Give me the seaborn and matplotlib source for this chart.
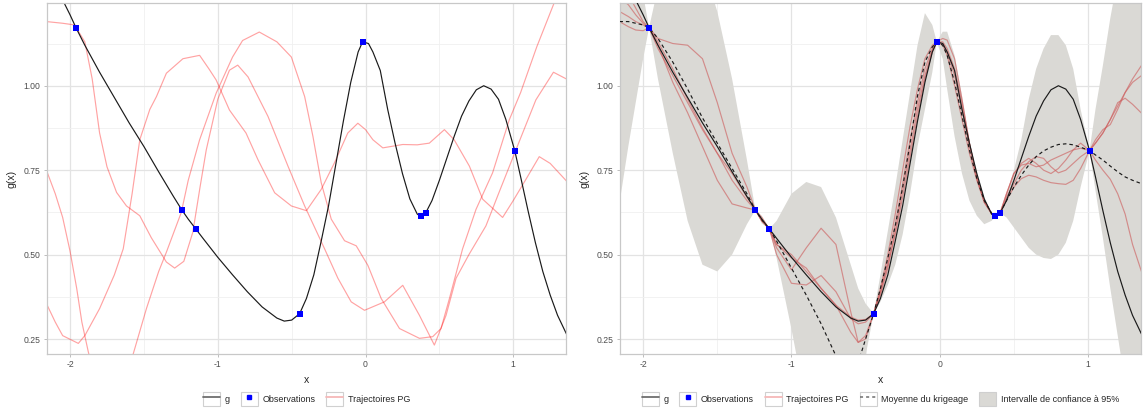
import pandas as pd
import seaborn as sns
import matplotlib.pyplot as plt
from matplotlib.lines import Line2D
from matplotlib.patches import Rectangle
from matplotlib.legend_handler import HandlerTuple

# x positions shared by g, the kriging mean, the 95% band and the right-hand trajectories
x_grid = [-2.16, -2.10, -2.05, -2.00, -1.96, -1.90, -1.80, -1.70, -1.60, -1.50,
          -1.40, -1.30, -1.243, -1.20, -1.149, -1.10, -1.00, -0.90, -0.80, -0.70,
          -0.60, -0.55, -0.50, -0.446, -0.40, -0.35, -0.30, -0.25, -0.20, -0.15,
          -0.10, -0.05, -0.02, 0.02, 0.05, 0.10, 0.15, 0.20, 0.25, 0.30,
          0.35, 0.373, 0.407, 0.45, 0.50, 0.55, 0.60, 0.65, 0.70, 0.75,
          0.80, 0.85, 0.90, 0.95, 1.01, 1.05, 1.10, 1.15, 1.20, 1.25,
          1.30, 1.36]

g_vals = [1.36, 1.30, 1.254, 1.21, 1.172, 1.12, 1.04, 0.965, 0.89, 0.82,
          0.745, 0.672, 0.632, 0.605, 0.576, 0.548, 0.492, 0.44, 0.39, 0.345,
          0.312, 0.303, 0.306, 0.325, 0.37, 0.44, 0.54, 0.645, 0.77, 0.895,
          1.01, 1.10, 1.13, 1.125, 1.10, 1.045, 0.93, 0.83, 0.74, 0.665,
          0.62, 0.613, 0.623, 0.66, 0.72, 0.785, 0.85, 0.91, 0.955, 0.988,
          1.0, 0.99, 0.96, 0.90, 0.808, 0.73, 0.63, 0.535, 0.45, 0.38,
          0.32, 0.265]

krig_mean = [1.19, 1.19, 1.185, 1.18, 1.172, 1.14, 1.07, 0.99, 0.905, 0.83,
             0.755, 0.68, 0.632, 0.603, 0.576, 0.54, 0.46, 0.38, 0.295, 0.20,
             0.13, 0.18, 0.25, 0.325, 0.40, 0.49, 0.585, 0.70, 0.83, 0.97,
             1.07, 1.115, 1.13, 1.12, 1.09, 1.01, 0.91, 0.81, 0.725, 0.66,
             0.622, 0.613, 0.623, 0.66, 0.70, 0.735, 0.765, 0.79, 0.807, 0.818,
             0.826, 0.828, 0.825, 0.818, 0.808, 0.795, 0.78, 0.762, 0.745, 0.73,
             0.72, 0.71]

ci_upper = [1.75, 1.55, 1.42, 1.27, 1.172, 1.29, 1.36, 1.40, 1.36, 1.22,
            1.02, 0.78, 0.632, 0.615, 0.576, 0.60, 0.68, 0.715, 0.70, 0.61,
            0.47, 0.40, 0.355, 0.325, 0.44, 0.57, 0.70, 0.84, 0.98, 1.12,
            1.215, 1.18, 1.13, 1.16, 1.16, 1.09, 0.97, 0.84, 0.73, 0.66,
            0.625, 0.613, 0.623, 0.68, 0.75, 0.84, 0.96, 1.05, 1.11, 1.15,
            1.15, 1.12, 1.05, 0.93, 0.808, 0.93, 1.06, 1.20, 1.32, 1.42,
            1.52, 1.62]

ci_lower = [0.65, 0.82, 0.95, 1.08, 1.172, 1.02, 0.80, 0.60, 0.47, 0.45,
            0.50, 0.59, 0.632, 0.592, 0.576, 0.49, 0.28, 0.05, -0.10, -0.20,
            -0.15, 0.02, 0.20, 0.325, 0.36, 0.41, 0.47, 0.56, 0.68, 0.82,
            0.93, 1.04, 1.13, 1.08, 0.99, 0.85, 0.74, 0.66, 0.615, 0.59,
            0.60, 0.613, 0.623, 0.61, 0.58, 0.55, 0.52, 0.50, 0.49, 0.487,
            0.50, 0.535, 0.60, 0.70, 0.808, 0.69, 0.55, 0.40, 0.26, 0.12,
            0.00, -0.12]

# conditioned trajectories (right panel)
traj_r1 = [1.22, 1.205, 1.19, 1.18, 1.172, 1.14, 1.125, 1.12, 1.08, 0.95,
           0.80, 0.70, 0.632, 0.60, 0.576, 0.52, 0.455, 0.52, 0.578, 0.53,
           0.33, 0.24, 0.25, 0.325, 0.40, 0.50, 0.62, 0.75, 0.88, 0.99,
           1.08, 1.12, 1.13, 1.14, 1.135, 1.08, 0.96, 0.83, 0.725, 0.655,
           0.622, 0.613, 0.623, 0.68, 0.74, 0.77, 0.785, 0.77, 0.75, 0.74,
           0.755, 0.78, 0.81, 0.83, 0.808, 0.84, 0.87, 0.885, 0.93, 0.98,
           1.02, 1.06]
traj_r2 = [1.19, 1.175, 1.165, 1.163, 1.172, 1.12, 1.01, 0.92, 0.82, 0.72,
           0.65, 0.638, 0.632, 0.61, 0.576, 0.53, 0.50, 0.45, 0.40, 0.35,
           0.315, 0.306, 0.308, 0.325, 0.38, 0.46, 0.57, 0.69, 0.81, 0.93,
           1.03, 1.105, 1.13, 1.125, 1.10, 1.03, 0.93, 0.82, 0.73, 0.66,
           0.62, 0.613, 0.623, 0.67, 0.71, 0.75, 0.775, 0.79, 0.785, 0.76,
           0.742, 0.75, 0.77, 0.79, 0.808, 0.83, 0.86, 0.90, 0.95, 0.963,
           0.945, 0.919]
traj_r3 = [1.30, 1.27, 1.23, 1.19, 1.172, 1.13, 1.05, 0.96, 0.875, 0.80,
           0.74, 0.67, 0.632, 0.60, 0.576, 0.50, 0.415, 0.41, 0.438, 0.39,
           0.31, 0.295, 0.30, 0.325, 0.39, 0.48, 0.59, 0.71, 0.84, 0.95,
           1.05, 1.11, 1.13, 1.12, 1.09, 1.00, 0.90, 0.80, 0.72, 0.655,
           0.62, 0.613, 0.623, 0.66, 0.70, 0.725, 0.735, 0.73, 0.72, 0.713,
           0.71, 0.708, 0.72, 0.755, 0.808, 0.78, 0.75, 0.723, 0.68, 0.62,
           0.53, 0.45]
traj_r4 = [1.26, 1.24, 1.21, 1.185, 1.172, 1.11, 1.03, 0.95, 0.87, 0.80,
           0.72, 0.66, 0.632, 0.60, 0.576, 0.53, 0.49, 0.46, 0.40, 0.35,
           0.27, 0.24, 0.26, 0.325, 0.39, 0.47, 0.56, 0.67, 0.79, 0.91,
           1.02, 1.10, 1.13, 1.13, 1.11, 1.05, 0.95, 0.83, 0.73, 0.66,
           0.622, 0.613, 0.623, 0.68, 0.74, 0.765, 0.77, 0.76, 0.765, 0.78,
           0.79, 0.80, 0.81, 0.815, 0.808, 0.83, 0.86, 0.90, 0.94, 0.98,
           1.01, 1.03]

# unconditioned trajectories (left panel), each with its own x
traj_l1_x = [-2.16, -2.05, -1.97, -1.90, -1.85, -1.80, -1.75, -1.685, -1.618, -1.528,
             -1.45, -1.348, -1.292, -1.23, -1.169, -1.12, -1.078, -1.00, -0.921, -0.865,
             -0.795, -0.66, -0.525, -0.412, -0.277, -0.187, -0.097, -0.007, 0.128, 0.252,
             0.365, 0.466, 0.545, 0.613, 0.70, 0.815, 0.90, 1.018, 1.153, 1.272, 1.36]
traj_l1_y = [1.19, 1.185, 1.18, 1.13, 1.02, 0.86, 0.76, 0.684, 0.644, 0.615,
             0.55, 0.478, 0.46, 0.48, 0.566, 0.70, 0.81, 0.96, 1.046, 1.061,
             1.026, 0.909, 0.762, 0.644, 0.517, 0.43, 0.36, 0.335, 0.36, 0.409,
             0.32, 0.232, 0.32, 0.43, 0.50, 0.585, 0.68, 0.81, 0.958, 1.04, 1.02]
traj_l2_x = [-2.16, -2.10, -2.05, -2.00, -1.955, -1.92, -1.877, -1.80, -1.70, -1.62,
             -1.573, -1.483, -1.40, -1.348, -1.247, -1.20, -1.123, -1.011, -0.90, -0.832,
             -0.719, -0.60, -0.502, -0.412, -0.356, -0.30, -0.232, -0.142, -0.063, 0.016,
             0.106, 0.23, 0.365, 0.455, 0.511, 0.568, 0.657, 0.748, 0.86, 0.973,
             1.05, 1.159, 1.272, 1.36]
traj_l2_y = [0.75, 0.68, 0.61, 0.51, 0.40, 0.30, 0.213, 0.08, 0.03, 0.10,
             0.205, 0.34, 0.45, 0.507, 0.625, 0.72, 0.84, 0.978, 1.085, 1.134,
             1.159, 1.13, 1.085, 0.968, 0.85, 0.713, 0.605, 0.541, 0.526, 0.468,
             0.37, 0.281, 0.252, 0.257, 0.281, 0.37, 0.517, 0.634, 0.742, 0.899,
             0.98, 1.115, 1.24, 1.33]
traj_l3_x = [-2.16, -2.10, -2.05, -1.944, -1.90, -1.80, -1.70, -1.64, -1.58, -1.528,
             -1.46, -1.415, -1.348, -1.236, -1.123, -1.06, -1.011, -0.921, -0.809, -0.728,
             -0.615, -0.502, -0.40, -0.30, -0.21, -0.12, -0.052, 0.00, 0.05, 0.117,
             0.252, 0.35, 0.432, 0.534, 0.60, 0.703, 0.793, 0.928, 1.00, 1.086,
             1.176, 1.25, 1.36]
traj_l3_y = [0.355, 0.30, 0.26, 0.237, 0.26, 0.34, 0.44, 0.517, 0.68, 0.84,
             0.93, 0.968, 1.037, 1.08, 1.09, 1.05, 1.017, 0.928, 0.86, 0.781,
             0.683, 0.644, 0.63, 0.693, 0.772, 0.86, 0.889, 0.87, 0.84, 0.816,
             0.826, 0.825, 0.83, 0.87, 0.84, 0.762, 0.664, 0.61, 0.66, 0.723,
             0.79, 0.77, 0.718]

# observations of g
x_obs = [-1.96, -1.243, -1.149, -0.446, -0.02, 0.373, 0.407, 1.01]
y_obs = [1.172, 0.632, 0.576, 0.325, 1.13, 0.613, 0.623, 0.808]

x_ticks = [-2, -1, 0, 1]
y_ticks = [0.25, 0.50, 0.75, 1.00]
y_tick_labels = ["0.25", "0.50", "0.75", "1.00"]

sns.set_theme(style="white")
plt.rcParams['font.family'] = ['Liberation Sans', 'DejaVu Sans']
plt.rcParams['axes.unicode_minus'] = False

band_color = '#DAD9D5'
W, H = 1144, 412
fig = plt.figure(figsize=(W / 100, H / 100), dpi=100)
ax1 = fig.add_axes([47 / W, 1 - 354 / H, 519 / W, 351 / H])
ax2 = fig.add_axes([620 / W, 1 - 354 / H, 521 / W, 351 / H])

left_df = pd.DataFrame({
    'x': traj_l1_x + traj_l2_x + traj_l3_x,
    'y': traj_l1_y + traj_l2_y + traj_l3_y,
    'traj': [1] * len(traj_l1_x) + [2] * len(traj_l2_x) + [3] * len(traj_l3_x),
})
right_df = pd.DataFrame({
    'x': x_grid * 4,
    'y': traj_r1 + traj_r2 + traj_r3 + traj_r4,
    'traj': sum([[k] * len(x_grid) for k in range(1, 5)], []),
})

# left panel: g, observations and prior trajectories
sns.lineplot(data=left_df, x='x', y='y', units='traj', estimator=None, sort=False,
             color='red', alpha=0.36, lw=0.85, ax=ax1, legend=False)
sns.lineplot(x=x_grid, y=g_vals, color='#1A1A1A', lw=0.85, ax=ax1)
sns.scatterplot(x=x_obs, y=y_obs, marker='s', color='blue', s=22, linewidth=0, ax=ax1, zorder=5)

# right panel: band, conditioned trajectories, kriging mean, g, observations
ax2.fill_between(x_grid, ci_lower, ci_upper, color=band_color, lw=0, zorder=1)
sns.lineplot(data=right_df, x='x', y='y', units='traj', estimator=None, sort=False,
             color='indianred', alpha=0.62, lw=0.85, ax=ax2, legend=False, zorder=2)
sns.lineplot(x=x_grid, y=krig_mean, color='#1A1A1A', lw=0.85, ax=ax2, zorder=3)
ax2.lines[-1].set_linestyle((0, (3, 2.5)))
sns.lineplot(x=x_grid, y=g_vals, color='#1A1A1A', lw=0.85, ax=ax2, zorder=3)
sns.scatterplot(x=x_obs, y=y_obs, marker='s', color='blue', s=22, linewidth=0, ax=ax2, zorder=5)

for ax in (ax1, ax2):
    ax.set_xlim(-2.156, 1.357)
    ax.set_ylim(0.2056, 1.245)
    ax.set_xticks(x_ticks)
    ax.set_xticklabels([str(t) for t in x_ticks])
    ax.set_yticks(y_ticks)
    ax.set_yticklabels(y_tick_labels)
    ax.set_xticks([-1.5, -0.5, 0.5], minor=True)
    ax.set_yticks([0.375, 0.625, 0.875, 1.125], minor=True)
    ax.set_axisbelow(True)
    ax.grid(which='major', color='#E3E3E3', lw=0.9)
    ax.grid(which='minor', color='#F0F0F0', lw=0.6)
    ax.tick_params(which='major', length=2.5, width=0.6, color='#B3B3B3',
                   labelsize=6.2, labelcolor='#4D4D4D', pad=2, bottom=True, left=True)
    ax.tick_params(which='minor', length=0)
    for sp in ax.spines.values():
        sp.set_color('#C8C8C8')
        sp.set_linewidth(0.9)
    ax.set_xlabel('x', fontsize=7.6, labelpad=4)
    ax.set_ylabel('g(x)', fontsize=7.6, labelpad=5)


def boxed(artist):
    return (Rectangle((0, 0), 1, 1, facecolor='white', edgecolor='#D0D0D0', lw=0.8), artist)


key_g = boxed(Line2D([], [], color='#6E6E6E', lw=1.3))
key_obs = boxed(Line2D([], [], marker='s', color='blue', ls='none', markersize=3.5))
key_traj = boxed(Line2D([], [], color='#F6B8B8', lw=1.3))
key_mean = boxed(Line2D([], [], color='#6E6E6E', lw=1.1, ls=(0, (2, 2))))
key_band = (Rectangle((0, 0), 1, 1, facecolor=band_color, edgecolor='#CFCFCF', lw=0.8),)

legend_kw = dict(loc='center', ncol=5, frameon=False, fontsize=6.5,
                 handlelength=1.9, handleheight=1.9, handletextpad=0.5,
                 columnspacing=1.2, handler_map={tuple: HandlerTuple(ndivide=1, pad=0)})
fig.legend([key_g, key_obs, key_traj], ['g', 'Observations', 'Trajectoires PG'],
           bbox_to_anchor=(306.5 / W, 1 - 399 / H), **legend_kw)
fig.legend([key_g, key_obs, key_traj, key_mean, key_band],
           ['g', 'Observations', 'Trajectoires PG', 'Moyenne du krigeage',
            'Intervalle de confiance à 95%'],
           bbox_to_anchor=(880.5 / W, 1 - 399 / H), **legend_kw)

fig.savefig('out.png', dpi=100)
